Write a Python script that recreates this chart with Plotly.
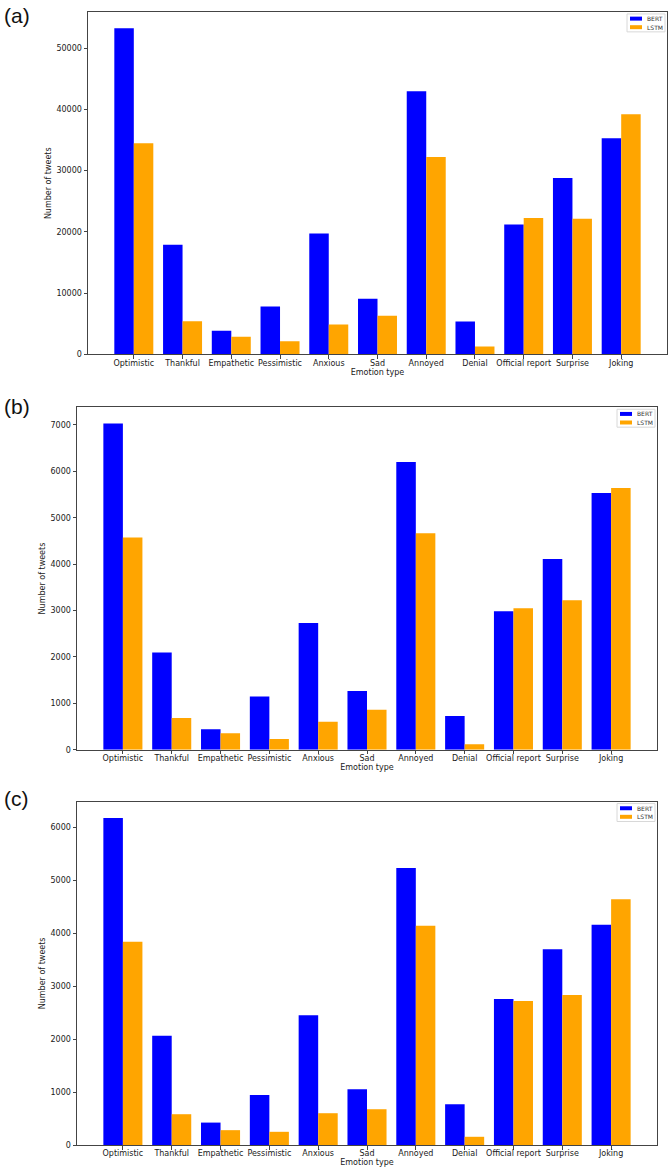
import plotly.graph_objects as go

categories = ["Optimistic", "Thankful", "Empathetic", "Pessimistic", "Anxious", "Sad",
              "Annoyed", "Denial", "Official report", "Surprise", "Joking"]

bert_a = [53240, 17900, 3880, 7820, 19740, 9110, 42980, 5390, 21200, 28800, 35280]
lstm_a = [34460, 5440, 2910, 2150, 4900, 6310, 32250, 1290, 22270, 22170, 39210]

bert_b = [7030, 2096, 443, 1148, 2731, 1269, 6202, 727, 2987, 4113, 5532]
lstm_b = [4577, 684, 357, 235, 606, 863, 4669, 122, 3051, 3222, 5639]

bert_c = [6175, 2063, 425, 946, 2451, 1053, 5228, 771, 2758, 3698, 4157]
lstm_c = [3837, 583, 282, 251, 602, 677, 4138, 157, 2720, 2833, 4638]

series_names = ["BERT", "LSTM"]
panel_labels = ["(a)", "(b)", "(c)"]
y_dticks = [10000, 1000, 1000]

W, H = 669, 1175
COLORS = ["#0000ff", "#ffa500"]
TEXTC = "#1a1a1a"
TICKFONT = dict(family="DejaVu Sans", size=8, color=TEXTC)

# pixel boxes of plot areas (left, right, top, bottom)
boxes = [(88, 667, 12, 356), (77, 657, 409, 753), (77, 657, 805, 1150)]
label_pos = [(2, 2), (2, 395), (2, 788)]

fig = go.Figure()
datasets = [(bert_a, lstm_a), (bert_b, lstm_b), (bert_c, lstm_c)]
for i, ds in enumerate(datasets):
    n = "" if i == 0 else str(i + 1)
    for k, vals in enumerate(ds):
        fig.add_trace(go.Bar(x=categories, y=vals, name=series_names[k],
                             marker=dict(color=COLORS[k], line=dict(width=0)),
                             xaxis="x" + n, yaxis="y" + n, offsetgroup=str(k),
                             showlegend=False))

layout = dict(width=W, height=H, margin=dict(l=0, r=0, t=0, b=0),
              paper_bgcolor="white", plot_bgcolor="white",
              barmode="group", bargap=0.2, bargroupgap=0,
              font=dict(family="DejaVu Sans", size=8, color=TEXTC))

annotations = []
shapes = []
for i, (left, right, top, bottom) in enumerate(boxes):
    n = "" if i == 0 else str(i + 1)
    ymax = 1.05 * max(datasets[i][0] + datasets[i][1])
    layout["xaxis" + n] = dict(
        domain=[left / W, right / W], anchor="y" + n,
        range=[-0.94, 10.94], tickangle=0,
        showline=True, linecolor="#444", linewidth=1, mirror=True,
        ticks="outside", ticklen=3.5, tickwidth=0.8, tickcolor="#444",
        ticklabelstandoff=-3,
        tickfont=TICKFONT, showgrid=False, zeroline=False,
        title=dict(text="Emotion type", font=dict(family="DejaVu Sans", size=8, color=TEXTC), standoff=2),
    )
    layout["yaxis" + n] = dict(
        domain=[1 - bottom / H, 1 - top / H], anchor="x" + n,
        range=[0, ymax], dtick=y_dticks[i], tick0=0, tickformat="d",
        showline=True, linecolor="#444", linewidth=1, mirror=True,
        ticks="outside", ticklen=3.5, tickwidth=0.8, tickcolor="#444",
        tickfont=TICKFONT, showgrid=False, zeroline=False,
        title=dict(text="Number of tweets", font=dict(family="DejaVu Sans", size=8, color=TEXTC), standoff=3),
    )
    # compact legend box (matplotlib style)
    bx0, bx1 = right - 40, right - 2
    by0, by1 = top + 2, top + 20
    shapes.append(dict(type="rect", xref="paper", yref="paper",
                       x0=bx0 / W, x1=bx1 / W, y0=1 - by1 / H, y1=1 - by0 / H,
                       line=dict(color="#d8d8d8", width=1), fillcolor="white", layer="above"))
    for k, name in enumerate(series_names):
        cy = top + 6.7 + k * 8.6
        shapes.append(dict(type="rect", xref="paper", yref="paper",
                           x0=(bx0 + 3) / W, x1=(bx0 + 15) / W,
                           y0=1 - (cy + 2) / H, y1=1 - (cy - 2) / H,
                           line=dict(width=0), fillcolor=COLORS[k], layer="above"))
        annotations.append(dict(text=name, xref="paper", yref="paper",
                                x=(bx0 + 18) / W, y=1 - cy / H, xanchor="left", yanchor="middle",
                                showarrow=False, font=dict(family="DejaVu Sans", size=6, color="#333")))
    lx, ly = label_pos[i]
    annotations.append(dict(text=panel_labels[i], xref="paper", yref="paper",
                            x=lx / W, y=1 - ly / H, xanchor="left", yanchor="top",
                            showarrow=False, font=dict(family="Liberation Sans", size=21, color="#111")))
layout["annotations"] = annotations
layout["shapes"] = shapes
fig.update_layout(**layout)

fig.write_html("out.html", config={"displayModeBar": False},
               post_script="document.body.style.margin='0';document.body.style.overflow='hidden';")
